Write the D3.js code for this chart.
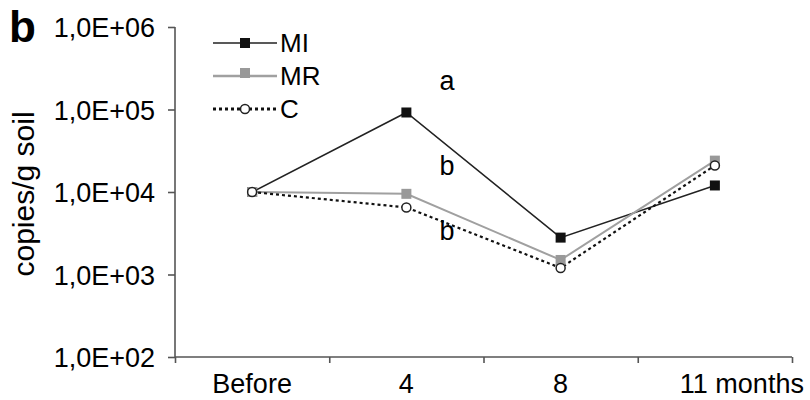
<!DOCTYPE html>
<html>
<head>
<meta charset="utf-8">
<script src="https://cdn.jsdelivr.net/npm/d3@7"></script>
<style>
  body { margin: 0; background: #fff; }
  text { font-family: "Liberation Sans", Arial, sans-serif; fill: #000; }
</style>
</head>
<body>
<div id="chart"></div>
<script>
// data
var months = ["Before", "4", "8", "11 months"];
var seriesNames = ["MI", "MR", "C"];
var valuesMI = [1.0e4, 9.2e4, 2.8e3, 1.2e4];
var valuesMR = [1.0e4, 9.5e3, 1.5e3, 2.4e4];
var valuesC  = [1.0e4, 6.5e3, 1.2e3, 2.1e4];
var yTicks = [1e2, 1e3, 1e4, 1e5, 1e6];
var letters = ["a", "b", "b"];
var letterValues = [1.7e5, 1.6e4, 2.6e3];

var width = 810, height = 400;
var plotLeft = 175, plotRight = 792, plotTop = 27, plotBottom = 357;

var svg = d3.select('#chart').append('svg')
  .attr('width', width)
  .attr('height', height);

var x = d3.scaleBand().domain(months).range([plotLeft, plotRight]);
var xEdge = d3.scaleLinear().domain([0, months.length]).range([plotLeft, plotRight]);
var y = d3.scaleLog().domain([1e2, 1e6]).range([plotBottom, plotTop]);

// panel letter
svg.append('text')
  .attr('x', 9).attr('y', 42)
  .style('font-size', '44px').style('font-weight', 'bold')
  .text('b');

// y axis
var yAxis = svg.append('g')
  .attr('transform', 'translate(' + plotLeft + ',0)')
  .call(d3.axisLeft(y).tickValues(yTicks).tickSize(7).tickPadding(13)
    .tickFormat(function (d) { return '1,0E+0' + Math.round(Math.log10(d)); }));
yAxis.selectAll('text').style('font-size', '27px').attr('dy', '0.36em');
yAxis.select('.domain').attr('d', 'M0,' + plotTop + 'V' + plotBottom);

// x axis, ticks on the band edges
var xAxis = svg.append('g')
  .attr('transform', 'translate(0,' + plotBottom + ')')
  .call(d3.axisBottom(xEdge).tickValues(d3.range(months.length + 1)).tickSize(6).tickFormat(''));
xAxis.select('.domain').attr('d', 'M' + plotLeft + ',0H' + plotRight);

svg.selectAll('.domain, .tick line')
  .attr('stroke', '#555').attr('stroke-width', 1.6);

svg.selectAll('.xlab').data(months).enter().append('text')
  .attr('class', 'xlab')
  .attr('x', function (d, i) { return x(d) + x.bandwidth() / 2 + (i == 3 ? 27 : 0); })
  .attr('y', 393)
  .attr('text-anchor', 'middle')
  .style('font-size', '27px')
  .text(function (d) { return d; });

// y label
svg.append('text')
  .attr('transform', 'translate(34,' + ((plotTop + plotBottom) / 2 + 2) + ') rotate(-90)')
  .attr('text-anchor', 'middle')
  .style('font-size', '30px')
  .text('copies/g soil');

var styles = {
  MI: { stroke: '#222', width: 1.5, dash: null },
  MR: { stroke: '#a0a0a0', width: 2, dash: null },
  C:  { stroke: '#111', width: 2.2, dash: '3,3' }
};
var allValues = { MI: valuesMI, MR: valuesMR, C: valuesC };

var line = d3.line()
  .x(function (d, i) { return x(months[i]) + x.bandwidth() / 2; })
  .y(function (d) { return y(d); });

var drawMarker = function (g, name, cx, cy) {
  if (name == 'C') {
    g.append('circle').attr('cx', cx).attr('cy', cy).attr('r', 4.5)
      .attr('fill', '#fff').attr('stroke', '#222').attr('stroke-width', 1.5);
  } else {
    g.append('rect').attr('x', cx - 5).attr('y', cy - 5).attr('width', 10).attr('height', 10)
      .attr('fill', name == 'MI' ? '#111' : '#999');
  }
};

seriesNames.forEach(function (name) {
  var st = styles[name];
  svg.append('path').datum(allValues[name])
    .attr('d', line)
    .attr('fill', 'none')
    .attr('stroke', st.stroke)
    .attr('stroke-width', st.width)
    .attr('stroke-dasharray', st.dash);
});
seriesNames.forEach(function (name) {
  var g = svg.append('g');
  allValues[name].forEach(function (v, i) {
    drawMarker(g, name, x(months[i]) + x.bandwidth() / 2, y(v));
  });
});

// significance letters next to month 4
svg.selectAll('.sig').data(letters).enter().append('text')
  .attr('class', 'sig')
  .attr('x', x('4') + x.bandwidth() / 2 + 33)
  .attr('y', function (d, i) { return y(letterValues[i]); })
  .style('font-size', '27px')
  .text(function (d) { return d; });

// legend
var legend = svg.append('g');
seriesNames.forEach(function (name, i) {
  var st = styles[name];
  var ly = 43 + i * 33;
  legend.append('line')
    .attr('x1', 213).attr('x2', 277).attr('y1', ly).attr('y2', ly)
    .attr('stroke', st.stroke).attr('stroke-width', name == 'MR' ? 2.5 : st.width + (name == 'C' ? 0.8 : 0))
    .attr('stroke-dasharray', st.dash);
  drawMarker(legend, name, 245, name == 'MR' ? ly - 3 : ly);
  legend.append('text')
    .attr('x', 280).attr('y', ly + 9)
    .style('font-size', '26px')
    .text(name);
});
</script>
</body>
</html>
